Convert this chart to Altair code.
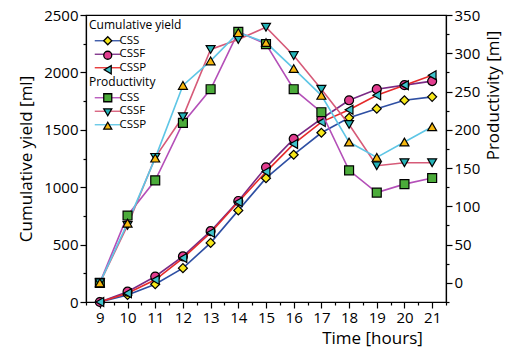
import altair as alt
import pandas as pd

time = [9, 10, 11, 12, 13, 14, 15, 16, 17, 18, 19, 20, 21]
series_names = ["CSS", "CSSF", "CSSP"]

cum_css = [0, 61, 155, 295, 515, 798, 1079, 1283, 1474, 1605, 1684, 1757, 1787]
cum_cssf = [0, 90, 222, 397, 617, 880, 1173, 1421, 1596, 1757, 1854, 1889, 1924]
cum_cssp = [0, 76, 193, 383, 603, 871, 1134, 1377, 1567, 1675, 1801, 1889, 1976]

prod_css = [0, 88, 134, 209, 253, 328, 312, 253, 223, 147, 118, 129, 137]
prod_cssf = [0, 75, 164, 217, 305, 318, 334, 297, 253, 207, 153, 157, 157]
prod_cssp = [0, 78, 163, 258, 290, 327, 314, 280, 245, 184, 164, 184, 204]

cum_line_colors = ["#2e4fa3", "#7a2a85", "#e52a2a"]
cum_fill_colors = ["#f7e81a", "#e23d8f", "#3ec3cc"]
cum_shapes = ["diamond", "circle", "triangle-left"]

prod_line_colors = ["#b44fb8", "#d65a78", "#5ec6e6"]
prod_fill_colors = ["#4bab3a", "#25b3b8", "#f6b80f"]
prod_shapes = ["square", "triangle-down", "triangle-up"]

FONT = "Open Sans"


def long_df(cols, key, key_m):
    rows = []
    for name, vals in zip(series_names, cols):
        for t, v in zip(time, vals):
            rows.append({"time": t, key: name, key_m: name, "value": v})
    return pd.DataFrame(rows)


df_cum = long_df([cum_css, cum_cssf, cum_cssp], "series", "series_m")
df_prod = long_df([prod_css, prod_cssf, prod_cssp], "pseries", "pseries_m")

x_values = [8.5 + 0.5 * i for i in range(27)]
x_enc = alt.X(
    "time:Q",
    scale=alt.Scale(domain=[8.5, 21.5], nice=False, zero=False),
    axis=alt.Axis(
        values=x_values,
        labelExpr="datum.value % 1 === 0 ? toString(datum.value) : ''",
        title="Time [hours]",
        titleX=286,
        titleY=28,
        titleAlign="center",
        titleFontSize=17,
        titleFontWeight="normal",
        titleFont=FONT,
        labelFont=FONT,
        labelFontSize=15,
        labelColor="black",
        titleColor="black",
        tickSize={"condition": {"test": "datum.value % 1 === 0", "value": 6}, "value": 3},
        labelPadding=2,
        labelOverlap=False,
        labelFlush=False,
        grid=False,
        domainColor="black",
        tickColor="black",
        domainWidth=1.2,
        tickWidth=1.2,
    ),
)

sym_size = 64
leg_common = dict(
    orient="none",
    legendX=3,
    symbolSize=sym_size,
    symbolOffset=13,
    labelOffset=6,
    labelFont=FONT,
    labelFontSize=11.5,
    labelColor="black",
    titleFont=FONT,
    titleFontSize=12,
    titleFontWeight="normal",
    titleColor="black",
    titlePadding=3,
    rowPadding=0.5,
    padding=0,
    symbolStrokeWidth=1.3,
)
blank_leg = dict(labelExpr="''", titleOpacity=0)

line_path = "M-3.25,0H3.25"

left_axis = alt.Axis(
    orient="left",
    values=list(range(0, 2501, 250)),
    format="d",
    labelExpr="datum.value % 500 === 0 ? datum.label : ''",
    title="Cumulative yield [ml]",
    titleFontSize=17,
    titleFontWeight="normal",
    titleFont=FONT,
    titleColor="black",
    titlePadding=8,
    labelFont=FONT,
    labelFontSize=15,
    labelColor="black",
    labelPadding=2,
    labelOverlap=False,
    labelFlush=False,
    tickSize={"condition": {"test": "datum.value % 500 === 0", "value": 6}, "value": 3},
    grid=False,
    domainColor="black",
    tickColor="black",
    domainWidth=1.2,
    tickWidth=1.2,
)

right_axis = alt.Axis(
    orient="right",
    values=list(range(-25, 351, 25)),
    format="d",
    labelExpr="datum.value % 50 === 0 ? datum.label : ''",
    title="Productivity [ml]",
    titleAngle=270,
    titleX=47,
    titleY=80,
    titleAlign="center",
    titleBaseline="middle",
    titleFontSize=17,
    titleFontWeight="normal",
    titleFont=FONT,
    titleColor="black",
    labelFont=FONT,
    labelFontSize=15,
    labelColor="black",
    labelPadding=2,
    labelOverlap=False,
    labelFlush=False,
    tickSize={"condition": {"test": "datum.value % 50 === 0", "value": 6}, "value": 3},
    grid=False,
    domainColor="black",
    tickColor="black",
    domainWidth=1.2,
    tickWidth=1.2,
)

left_y = alt.Y("value:Q", scale=alt.Scale(domain=[0, 2500], nice=False), axis=left_axis)
right_y = alt.Y("value:Q", scale=alt.Scale(domain=[-25, 350], nice=False, zero=False), axis=right_axis)

cum_line = alt.Chart(df_cum).mark_line(strokeWidth=1.6).encode(
    x=x_enc,
    y=left_y,
    stroke=alt.Stroke(
        "series:N",
        scale=alt.Scale(domain=series_names, range=cum_line_colors),
        legend=alt.Legend(title="Cumulative yield", legendY=5, symbolType=line_path, **leg_common),
    ),
    detail="series:N",
)

cum_pts = alt.Chart(df_cum).mark_point(filled=True, opacity=1, stroke="black", strokeWidth=1.2, size=80).encode(
    x=x_enc,
    y=left_y,
    fill=alt.Fill(
        "series_m:N",
        scale=alt.Scale(range=cum_fill_colors),
        legend=alt.Legend(title="Cumulative yield", legendY=5, **blank_leg, **leg_common),
    ),
    shape=alt.Shape(
        "series_m:N",
        scale=alt.Scale(range=cum_shapes),
        legend=alt.Legend(title="Cumulative yield", legendY=5, **blank_leg, **leg_common),
    ),
)

prod_line = alt.Chart(df_prod).mark_line(strokeWidth=1.6).encode(
    x=x_enc,
    y=right_y,
    stroke=alt.Stroke(
        "pseries:N",
        scale=alt.Scale(domain=series_names, range=prod_line_colors),
        legend=alt.Legend(title="Productivity", legendY=62, symbolType=line_path, **leg_common),
    ),
    detail="pseries:N",
)

prod_pts = alt.Chart(df_prod).mark_point(filled=True, opacity=1, stroke="black", strokeWidth=1.2, size=80).encode(
    x=x_enc,
    y=right_y,
    fill=alt.Fill(
        "pseries_m:N",
        scale=alt.Scale(range=prod_fill_colors),
        legend=alt.Legend(title="Productivity", legendY=62, **blank_leg, **leg_common),
    ),
    shape=alt.Shape(
        "pseries_m:N",
        scale=alt.Scale(range=prod_shapes),
        legend=alt.Legend(title="Productivity", legendY=62, **blank_leg, **leg_common),
    ),
)

left = alt.layer(cum_line, cum_pts)
right = alt.layer(prod_line, prod_pts)

chart = (
    alt.layer(left, right)
    .resolve_scale(y="independent", stroke="independent", fill="independent", shape="independent")
    .resolve_legend(stroke="independent", fill="independent", shape="independent")
    .properties(
        width=360,
        height=287,
        autosize=alt.AutoSizeParams(type="none"),
        padding={"left": 86, "top": 15, "right": 61, "bottom": 47},
        background="white",
    )
    .configure_view(stroke="black", strokeWidth=1.2)
)

chart.save("out.html", embed_options={"renderer": "svg", "actions": False})
